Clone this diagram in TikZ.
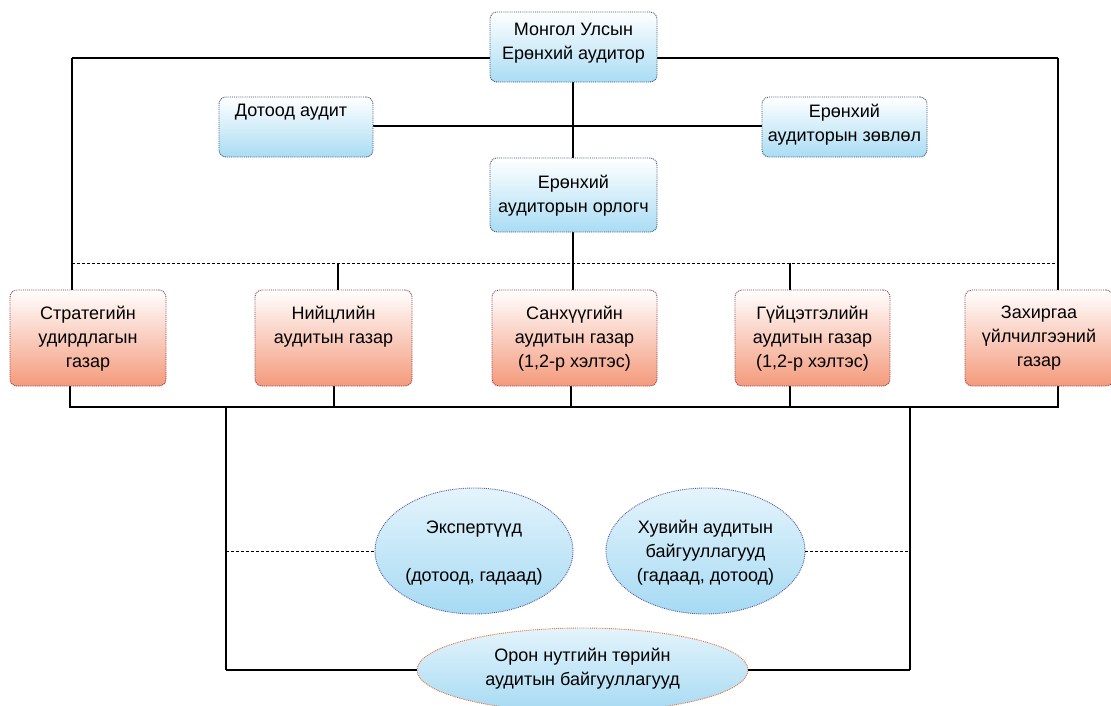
\documentclass[tikz,border=0pt]{standalone}
\usepackage{fontspec}
\setmainfont{Liberation Sans}
\usetikzlibrary{shapes.geometric}
\definecolor{bluebot}{HTML}{A9DCF4}
\definecolor{bluetop}{HTML}{FFFFFF}
\definecolor{ellbot}{HTML}{A6DAF3}
\definecolor{elltop}{HTML}{E4F4FC}
\definecolor{orbot}{HTML}{F49A7C}
\definecolor{bluebd}{HTML}{3F4F6F}
\definecolor{orbd}{HTML}{8E3848}
\definecolor{ellbd}{HTML}{5A5AA0}
\definecolor{oronbd}{HTML}{E8703A}
\tikzset{
  boxbase/.style={rectangle, rounded corners=7pt, densely dotted, line width=0.9pt, inner sep=0pt},
  bluebox/.style={boxbase, draw=bluebd, top color=bluetop, bottom color=bluebot},
  orbox/.style={boxbase, draw=orbd, top color=white, bottom color=orbot},
  blueell/.style={ellipse, densely dotted, line width=0.9pt, inner sep=0pt, draw=ellbd, top color=elltop, bottom color=ellbot},
  oronell/.style={ellipse, densely dotted, line width=0.9pt, inner sep=0pt, draw=oronbd, top color=elltop, bottom color=ellbot},
  lbl/.style={align=center, anchor=north, inner sep=0pt, font=\fontsize{18}{24}\selectfont},
  clbl/.style={align=center, inner sep=0pt, font=\fontsize{18}{24}\selectfont},
  conn/.style={draw=black, line width=1.8pt},
  dconn/.style={draw=black, line width=0.9pt, dash pattern=on 3pt off 2pt},
}
\begin{document}
\begin{tikzpicture}[x=1pt,y=-1pt]
\clip (0,0) rectangle (1111,705);
\fill[white] (0,0) rectangle (1111,705);
% coordinates for connector corners
\coordinate (L) at (72,58);
\coordinate (R) at (1058,58);
\coordinate (D1) at (72,263);
\coordinate (D2) at (1058,263);
\coordinate (N1) at (338,263);
\coordinate (G1) at (790,263);
\coordinate (B1) at (70,407);
\coordinate (B2) at (1058,407);
\coordinate (BN) at (334,407);
\coordinate (BS) at (571,407);
\coordinate (BG) at (790,407);
\coordinate (C1) at (226,407);
\coordinate (C2) at (910,407);
\coordinate (C3) at (226,670);
\coordinate (C4) at (910,670);

% connectors first (behind boxes)
\draw[conn] (573,82) -- (573,158);
\draw[conn] (573,232) -- (573,290);
\draw[conn] (L) -- (L |- 0,290);
\draw[conn] (R) -- (R |- 0,290);
\draw[conn] (490,58) -- (L);
\draw[conn] (657,58) -- (R);
\draw[conn] (373,126) -- (762,126);
\draw[dconn] (D1) -- (D2);
\draw[conn] (N1) -- (N1 |- 0,290);
\draw[conn] (G1) -- (G1 |- 0,290);
\draw[conn] (B1 |- 0,386) -- (B1) -- (B2) -- (B2 |- 0,386);
\draw[conn] (BN) -- (BN |- 0,386);
\draw[conn] (BS) -- (BS |- 0,386);
\draw[conn] (BG) -- (BG |- 0,386);
\draw[conn] (C1) -- (C3);
\draw[conn] (C2) -- (C4);

% boxes
\node[bluebox, minimum width=167, minimum height=70] (top) at (573.5,47) {};
\node[lbl] (topt) at (573.5,23) {Монгол Улсын\\Ерөнхий аудитор};
\node[bluebox, minimum width=154, minimum height=60] (dot) at (296,127) {};
\node[lbl] (dott) at (291,104) {Дотоод аудит};
\node[bluebox, minimum width=165, minimum height=60] (zov) at (844.5,127) {};
\node[lbl] (zovt) at (844.5,104) {Ерөнхий\\аудиторын зөвлөл};
\node[bluebox, minimum width=167, minimum height=74] (orl) at (573.5,195) {};
\node[lbl] (orlt) at (573.5,175) {Ерөнхий\\аудиторын орлогч};

\node[orbox, minimum width=156, minimum height=96] (strat) at (88,338) {};
\node[lbl] (stratt) at (88,306) {Стратегийн\\удирдлагын\\газар};
\node[orbox, minimum width=157, minimum height=96] (nii) at (333.5,338) {};
\node[lbl] (niit) at (333.5,306) {Нийцлийн\\аудитын газар};
\node[orbox, minimum width=165, minimum height=96] (san) at (574.5,338) {};
\node[lbl] (sant) at (574.5,306) {Санхүүгийн\\аудитын газар\\(1,2-р хэлтэс)};
\node[orbox, minimum width=155, minimum height=96] (guy) at (812.5,338) {};
\node[lbl] (guyt) at (812.5,306) {Гүйцэтгэлийн\\аудитын газар\\(1,2-р хэлтэс)};
\node[orbox, minimum width=148, minimum height=96] (zax) at (1039,338) {};
\node[lbl] (zaxt) at (1039,306) {Захиргаа\\үйлчилгээний\\газар};

% ellipses
\node[blueell, minimum width=198, minimum height=126] (eks) at (474,551) {};
\node[clbl] (ekst) at (474,553) {Экспертүүд\\[24pt](дотоод, гадаад)};
\node[blueell, minimum width=199, minimum height=126] (hub) at (705.5,551) {};
\node[clbl] (hubt) at (705.5,553) {Хувийн аудитын\\байгууллагууд\\(гадаад, дотоод)};
\node[oronell, minimum width=331, minimum height=84] (oron) at (582.5,670) {};
\node[clbl] (oront) at (582.5,669) {Орон нутгийн төрийн\\аудитын байгууллагууд};

\draw[dconn] (C1 |- eks) -- (eks.west);
\draw[dconn] (hub.east) -- (C2 |- hub);
\draw[conn] (C3) -- (oron.west);
\draw[conn] (oron.east) -- (C4);
\end{tikzpicture}
\end{document}
